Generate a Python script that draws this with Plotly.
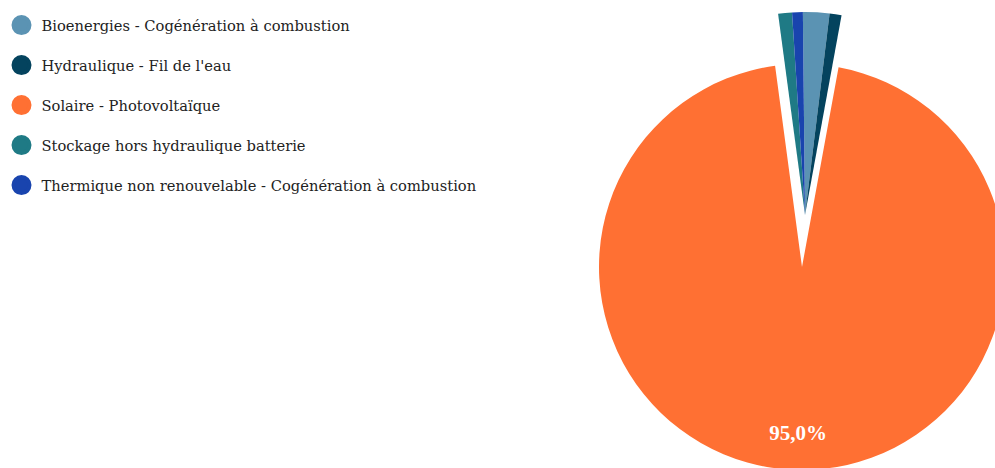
import plotly.graph_objects as go

labels = [
    "Bioenergies - Cogénération à combustion",
    "Hydraulique - Fil de l'eau",
    "Solaire - Photovoltaïque",
    "Stockage hors hydraulique batterie",
    "Thermique non renouvelable - Cogénération à combustion",
]
values = [2.1, 0.95, 95.0, 1.1, 0.85]
colors = ["#5B93B3", "#04435E", "#FF7033", "#1F7A85", "#1944AE"]
main_slice = "Solaire - Photovoltaïque"

W, H = 1010, 475  # figure a bit larger than the visible area: the pie is clipped at the right edge
R = 203
CX, CY = 802, 267          # centre of the main slice (pixels)
PULL_DX, PULL_DY = 3, -52  # the small slices are pulled out together


def domain(cx, cy, r):
    return dict(x=[(cx - r) / W, (cx + r) / W], y=[(H - (cy + r)) / H, (H - (cy - r)) / H])


TRANSPARENT = "rgba(0,0,0,0)"
is_main = [lab == main_slice for lab in labels]
common = dict(labels=labels, values=values, sort=False, direction="clockwise", rotation=-0.6,
              showlegend=False)

fig = go.Figure()

# main slice (unpulled)
fig.add_trace(go.Pie(
    **common,
    marker=dict(colors=[c if m else TRANSPARENT for c, m in zip(colors, is_main)], line=dict(width=0)),
    textinfo="none",
    domain=domain(CX, CY, R), hoverinfo="label+percent",
))

# small slices, pulled out together
fig.add_trace(go.Pie(
    **common,
    marker=dict(colors=[TRANSPARENT if m else c for c, m in zip(colors, is_main)], line=dict(width=0)),
    textinfo="none",
    domain=domain(CX + PULL_DX, CY + PULL_DY, R), hoverinfo="label+percent",
))

# percentage label of the main slice, placed in an invisible ring near the rim
fig.add_trace(go.Pie(
    **common,
    hole=0.636,
    marker=dict(colors=[TRANSPARENT] * len(labels), line=dict(width=0)),
    texttemplate="%{percent:.1%}",
    textposition=["inside" if m else "none" for m in is_main],
    insidetextorientation="horizontal",
    textfont=dict(family="Liberation Serif", size=21, color="white", weight="bold"),
    domain=domain(CX, CY, R), hoverinfo="skip",
))

# legend entries with round markers
for lab, col in zip(labels, colors):
    fig.add_trace(go.Scatter(
        x=[None], y=[None], mode="markers", name=lab, legendgroup=lab,
        marker=dict(size=16, color=col, line=dict(color=col, width=4)),
    ))

fig.update_layout(
    width=W, height=H,
    margin=dict(l=0, r=0, t=0, b=0),
    paper_bgcolor="white", plot_bgcolor="white",
    separators=", ",
    xaxis=dict(visible=False), yaxis=dict(visible=False),
    legend=dict(
        x=1.5 / W, y=1 - 9 / H, xanchor="left", yanchor="top",
        font=dict(family="DejaVu Serif", size=14.7, color="#222222"),
        traceorder="grouped", tracegroupgap=17.9,
        bgcolor="rgba(0,0,0,0)",
    ),
)

fig.write_html(
    "out.html",
    config={"displayModeBar": False},
    post_script="document.body.style.margin='0';document.body.style.overflow='hidden';",
)
